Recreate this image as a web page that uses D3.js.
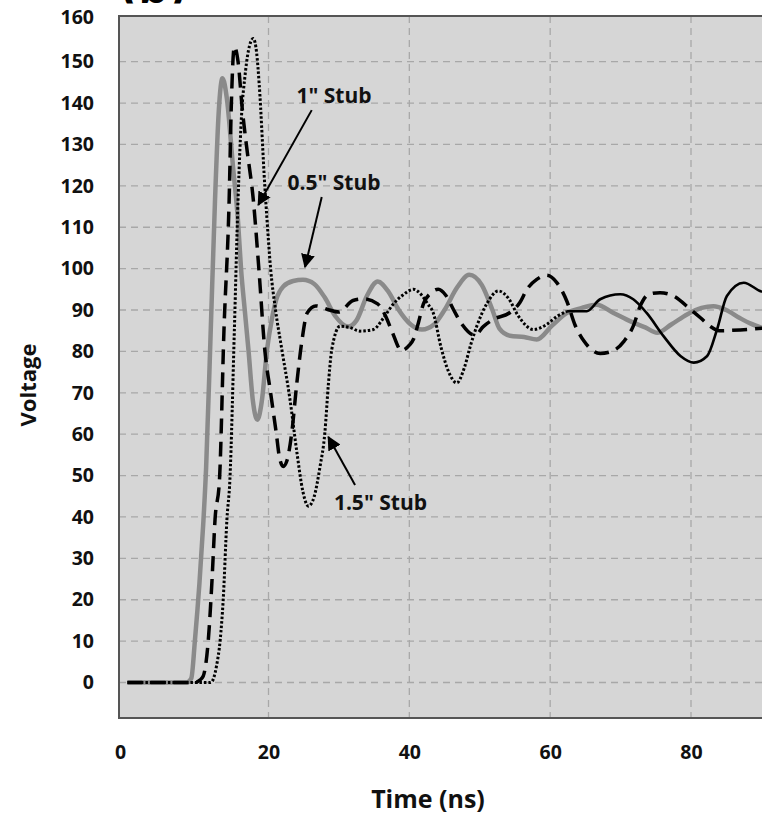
<!DOCTYPE html>
<html><head><meta charset="utf-8">
<script src="https://cdn.jsdelivr.net/npm/d3@7"></script>
<style>
body{margin:0;background:#fff;}
svg{display:block;font-family:"Open Sans",sans-serif;font-weight:700;}
</style></head>
<body>
<script>
// ---- data ----
const xTicks = [0, 20, 40, 60, 80];
const yTicks = [0,10,20,30,40,50,60,70,80,90,100,110,120,130,140,150,160];

// 0.5" stub (gray solid)
const stub05 = [[1,0],[9.0,0],[9.6,1],[10.1,10.4],[10.7,24],[11.2,38],[11.6,52],[12.2,84],[12.8,116.7],[13.3,138],[13.8,146],[14.4,141],[15.2,125],[15.9,111.3],[16.3,100],[16.8,90],[17.3,80.4],[17.9,68],[18.5,63.5],[19.1,68],[19.8,80.4],[20.5,88],[21.1,92.5],[22.1,95.7],[23.5,97],[24.9,97.3],[26.5,96.3],[28,93],[29.5,88.5],[31.3,86],[32.5,87.5],[34,93.5],[35.5,96.9],[37,94.5],[38.5,90],[40.2,86.5],[41.8,85.3],[43.5,86.5],[45,90],[46.8,95.5],[48.5,98.5],[50.3,96],[51.8,90],[52.8,85.5],[54.3,83.8],[56.3,83.5],[58.1,82.9],[60.3,86.3],[62.4,89.3],[64.5,90.5],[66.6,91.3],[69,89.3],[71.5,87.2],[73.5,85.8],[75.2,84.5],[77.2,86.5],[79.5,89],[81.5,90.5],[83.2,90.9],[85,90],[87,88],[88.5,86.7],[90.1,85.7]];

// 1" stub (black dashed)
const stub1 = [[1,0],[10.1,0],[10.7,0.5],[11.2,1.5],[11.9,10.4],[12.4,25],[12.8,39.4],[13.4,49],[14.0,85],[14.7,116.7],[15.0,140],[15.4,153.4],[15.9,150],[16.5,138],[17.05,129.5],[17.95,116.7],[18.7,100],[19.5,80.4],[20.3,70],[21.1,60.3],[21.6,54],[22.1,52.2],[22.6,53.5],[23.3,60.3],[24.0,72],[24.7,82],[25.5,89.3],[26.7,91],[28.3,90.2],[30.0,89.5],[32,92.3],[33.5,92.7],[35.5,91.5],[36.5,89],[37.5,85],[38.9,80.2],[40.0,81.5],[40.6,83],[41.3,87],[42.0,91.5],[43,94],[44.1,95],[45.2,93.5],[46.3,90],[47.5,86.5],[49.3,83.9],[50.5,86],[52,87.8],[54.3,89.4],[55.7,91.8],[56.7,95],[58.1,97.4],[59.5,98.4],[61,96.5],[62.4,92],[63.5,86.5],[64.8,82.5],[67.1,79.5],[69,80.2],[70.5,82.5],[71.8,86.1],[72.8,91],[74,93.8],[75.6,94.2],[77.5,93.4],[79.9,90.2],[81.3,88.2],[82.7,86.1],[84,85],[87,85.2],[90.1,85.6]];

// 1.5" stub (black dotted)
const stub15 = [[1,0],[12.2,0],[12.6,1],[13.0,4],[13.5,10.4],[13.9,20],[14.4,39.4],[14.8,49],[15.4,85],[15.9,116.7],[16.4,138],[16.8,146],[17.3,152.5],[17.95,155.2],[18.4,152],[18.75,144.5],[19.5,120],[19.8,111.8],[20.3,100],[21.0,90],[21.9,80.4],[23.05,68.4],[24.0,56],[24.9,46],[25.66,42.6],[26.5,45],[27.3,52],[28.0,60.3],[28.5,72],[28.98,80.4],[30.16,86.1],[31.5,85.8],[33,84.9],[34.9,85.3],[36.3,88],[37.7,91.4],[39,93.5],[40.58,95],[41.8,93.5],[42.6,91.5],[43.4,89.3],[44.5,81],[45.6,75],[46.74,72.4],[47.8,76],[48.7,81.5],[49.58,86.1],[51,91.5],[52.65,94.6],[54,93],[55.5,88.5],[57.6,85.3],[59.5,86.5],[61,88.5],[62.4,89.7]];

// continuation (black solid)
const solidTail = [[62.4,89.7],[65.2,89.7],[67.1,92.6],[69.95,93.8],[71.8,92.6],[73.7,89.3],[76.1,83.7],[78.5,78.9],[80.4,77.3],[82.3,78.9],[83.7,85.3],[85.1,93.4],[87.5,96.6],[89.8,94.6],[90.1,94.4]];

// annotations (data coords): label, text pos, arrow from, arrow to
const annLabels = ['1" Stub', '0.5" Stub', '1.5" Stub'];
const annText = [[29.3,141.9],[29.3,120.9],[35.9,43.6]];
const annFrom = [[26.14,138.3],[27.56,117.3],[32.29,47.7]];
const annTo = [[18.63,115.4],[25.19,100.4],[28.5,59.3]];

// ---- chart ----
(function () {
const W = 762, H = 815;
const svg = d3.select("body").append("svg").attr("width", W).attr("height", H);

const x = d3.scaleLinear().domain([0, 20, 80, 91]).range([120, 268.5, 691, 768.4]);
const y = d3.scaleLinear().domain([-8.6, 0, 150, 160]).range([718, 682.5, 61.7, 17]);

const pL = 119, pT = 16, pB = 718, pR = 780;
const defs = svg.append("defs");

// partial title at top (cut off by the page edge, as in the reference)
defs.append("clipPath").attr("id", "tclip").append("rect")
  .attr("x", 0).attr("y", -100).attr("width", W).attr("height", 103.5);
svg.append("text").attr("x", 122).attr("y", 3).attr("font-size", 48)
  .attr("clip-path", "url(#tclip)").attr("fill", "#000").text("(b)");

svg.append("rect").attr("x", pL).attr("y", pT).attr("width", pR - pL).attr("height", pB - pT).attr("fill", "#d6d6d6");

defs.append("clipPath").attr("id", "clip").append("rect")
  .attr("x", pL).attr("y", pT).attr("width", pR - pL).attr("height", pB - pT);

// grid
const grid = svg.append("g");
grid.selectAll("line.h").data(yTicks.slice(0, -1)).enter().append("line")
  .attr("x1", pL).attr("x2", pR).attr("y1", d => y(d)).attr("y2", d => y(d))
  .attr("stroke", "#a8a8a8").attr("stroke-width", 1.3).attr("stroke-dasharray", "7,5");
grid.selectAll("line.v").data(xTicks.slice(1)).enter().append("line")
  .attr("y1", pT).attr("y2", pB).attr("x1", d => x(d)).attr("x2", d => x(d))
  .attr("stroke", "#a8a8a8").attr("stroke-width", 1.3).attr("stroke-dasharray", "7,5");

// border
svg.append("path").attr("d", `M${pR},${pT}H${pL}V${pB}H${pR}`)
  .attr("fill", "none").attr("stroke", "#555").attr("stroke-width", 2);

// axes
const ya = svg.append("g").attr("transform", `translate(${pL},0)`)
  .call(d3.axisLeft(y).tickValues(yTicks).tickSize(0).tickPadding(25).tickFormat(d3.format("d")));
ya.select(".domain").remove();
ya.selectAll("text").attr("font-size", 19.5).attr("font-family", "Open Sans").attr("font-weight", 700).attr("fill", "#111");

const xa = svg.append("g").attr("transform", `translate(0,${pB})`)
  .call(d3.axisBottom(x).tickValues(xTicks).tickSize(0).tickPadding(27).tickFormat(d3.format("d")));
xa.select(".domain").remove();
xa.selectAll("text").attr("font-size", 19.5).attr("font-family", "Open Sans").attr("font-weight", 700).attr("fill", "#111");

svg.append("text").attr("x", 428).attr("y", 808).attr("text-anchor", "middle")
  .attr("font-size", 25).attr("fill", "#111").text("Time (ns)");
svg.append("text").attr("transform", "translate(36,385) rotate(-90)").attr("text-anchor", "middle")
  .attr("font-size", 22).attr("fill", "#111").text("Voltage");

// lines
const line = d3.line().x(d => x(d[0])).y(d => y(d[1])).curve(d3.curveMonotoneX);
const g = svg.append("g").attr("clip-path", "url(#clip)");
g.append("path").datum(stub05).attr("d", line).attr("fill", "none")
  .attr("stroke", "#8a8a8a").attr("stroke-width", 4.5).attr("stroke-linejoin", "round");
g.append("path").datum(stub15).attr("d", line).attr("fill", "none")
  .attr("stroke", "#000").attr("stroke-width", 3).attr("stroke-dasharray", "2.5,2");
g.append("path").datum(solidTail).attr("d", line).attr("fill", "none")
  .attr("stroke", "#000").attr("stroke-width", 2.6);
g.append("path").datum(stub1).attr("d", line).attr("fill", "none")
  .attr("stroke", "#000").attr("stroke-width", 3.5).attr("stroke-dasharray", "15,8");

// annotations
defs.append("marker").attr("id", "arr").attr("viewBox", "0 0 10 10").attr("refX", 9).attr("refY", 5)
  .attr("markerWidth", 7).attr("markerHeight", 7).attr("orient", "auto").attr("markerUnits", "strokeWidth")
  .append("path").attr("d", "M0,0L10,5L0,10z").attr("fill", "#000");
annLabels.forEach((lab, i) => {
  svg.append("line").attr("x1", x(annFrom[i][0])).attr("y1", y(annFrom[i][1]))
    .attr("x2", x(annTo[i][0])).attr("y2", y(annTo[i][1]))
    .attr("stroke", "#000").attr("stroke-width", 2).attr("marker-end", "url(#arr)");
  svg.append("text").attr("x", x(annText[i][0])).attr("y", y(annText[i][1]))
    .attr("text-anchor", "middle").attr("dominant-baseline", "central")
    .attr("font-size", 21).attr("fill", "#111").text(lab);
});
})();
</script>
</body></html>
